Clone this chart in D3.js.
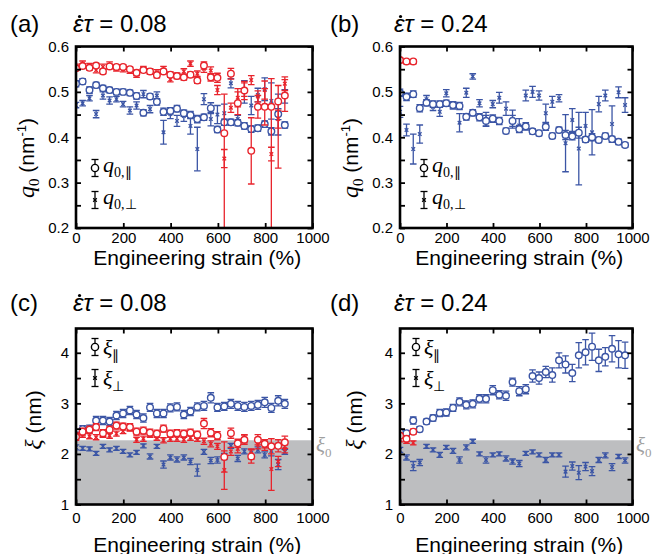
<!DOCTYPE html>
<html>
<head>
<meta charset="utf-8">
<script src="https://cdn.jsdelivr.net/npm/d3@7"></script>
<style>
  body { margin: 0; background: #fff; }
  svg { display: block; }
</style>
</head>
<body>
<svg id="fig" width="653" height="554"></svg>
<script>
// strain values (%) of the frames
const strainA = [0,28,57,85,114,142,171,199,228,256,285,313,342,370,399,427,456,484,513,541,570,598,627,655,684,712,741,769,798,826,855,883]
const strainB = [0,28,57,85,114,142,171,199,228,256,285,313,342,370,399,427,456,484,513,541,570,598,627,655,684,712,741,769,798,826,855,883,912,940,968]
const strainBRed = [0,28,57]

// axis ticks
const strainTicks = [0,200,400,600,800,1000]
const qTicks = [0.2,0.25,0.3,0.35,0.4,0.45,0.5,0.55,0.6]
const qTickLabels = [0.2,0.3,0.4,0.5,0.6]
const xiTicks = [1,1.5,2,2.5,3,3.5,4]
const xiTickLabels = [1,2,3,4]
const xi0 = 2.27

// (a) q0, rate 0.08
const aParBlue = [0.518,0.523,0.504,0.515,0.508,0.504,0.500,0.500,0.498,0.491,0.454,0.490,0.478,0.456,0.458,0.463,0.453,0.449,0.440,0.444,0.464,0.417,0.433,0.433,0.432,0.425,0.418,0.420,0.429,0.413,0.451,0.427]
const aParBlueErr = [0.007,0.006,0.007,0.006,0.006,0.006,0.006,0.006,0.006,0.007,0.007,0.006,0.007,0.008,0.007,0.007,0.007,0.008,0.008,0.007,0.012,0.007,0.007,0.007,0.007,0.007,0.007,0.007,0.007,0.008,0.012,0.007]
const aPerpBlue = [0.471,0.475,0.486,0.451,0.492,0.481,0.484,0.473,0.459,0.470,0.495,0.462,0.492,0.411,0.451,0.436,0.447,0.425,0.374,0.484,0.440,0.450,0.453,0.519,0.440,0.500,0.470,0.493,0.506,0.480,0.450,0.490]
const aPerpBlueErr = [0.006,0.006,0.006,0.008,0.008,0.008,0.006,0.006,0.008,0.008,0.008,0.008,0.008,0.026,0.010,0.012,0.012,0.018,0.048,0.012,0.015,0.020,0.020,0.010,0.008,0.025,0.020,0.015,0.025,0.040,0.045,0.015]
const aParRed = [0.552,0.557,0.553,0.558,0.545,0.556,0.555,0.555,0.550,0.542,0.548,0.545,0.537,0.545,0.538,0.535,0.532,0.538,0.525,0.558,0.532,0.531,0.409,0.540,0.475,0.503,0.370,0.467,0.467,0.467,0.479,0.492]
const aParRedErr = [0.005,0.005,0.005,0.005,0.005,0.005,0.005,0.005,0.005,0.006,0.005,0.005,0.006,0.005,0.006,0.006,0.006,0.006,0.006,0.008,0.008,0.010,0.086,0.012,0.025,0.020,0.073,0.025,0.040,0.062,0.035,0.035]
const aParRedErrLo = [0.005,0.005,0.005,0.005,0.005,0.005,0.005,0.005,0.005,0.006,0.005,0.005,0.006,0.005,0.006,0.006,0.006,0.006,0.006,0.008,0.008,0.010,0.250,0.012,0.025,0.020,0.073,0.025,0.040,0.300,0.147,0.035]
const aPerpRed = [0.555,0.562,0.557,0.548,0.555,0.560,0.552,0.550,0.547,0.538,0.550,0.545,0.543,0.550,0.528,0.535,0.545,0.562,0.540,0.551,0.547,0.504,0.353,0.465,0.487,0.505,0.526,0.490,0.504,0.363,0.440,0.518]
const aPerpRedErr = [0.006,0.006,0.006,0.006,0.006,0.006,0.006,0.006,0.006,0.006,0.006,0.006,0.006,0.006,0.006,0.006,0.006,0.006,0.006,0.008,0.008,0.010,0.020,0.010,0.020,0.015,0.010,0.012,0.020,0.015,0.020,0.015]

// (b) q0, rate 0.24
const bParBlue = [0.498,0.489,0.495,0.464,0.476,0.473,0.473,0.475,0.471,0.469,0.445,0.454,0.444,0.436,0.441,0.436,0.414,0.436,0.418,0.424,0.413,0.409,0.423,0.403,0.416,0.405,0.402,0.410,0.395,0.400,0.394,0.403,0.396,0.390,0.383]
const bParBlueErr = [0.008,0.008,0.007,0.008,0.007,0.007,0.007,0.007,0.007,0.008,0.007,0.007,0.008,0.012,0.008,0.008,0.006,0.012,0.008,0.008,0.006,0.006,0.008,0.006,0.006,0.010,0.008,0.012,0.006,0.008,0.006,0.006,0.006,0.006,0.005]
const bPerpBlue = [0.456,0.416,0.374,0.407,0.484,0.467,0.456,0.497,0.470,0.432,0.498,0.534,0.475,0.440,0.473,0.487,0.463,0.440,0.426,0.492,0.500,0.492,0.453,0.478,0.486,0.387,0.438,0.375,0.425,0.411,0.473,0.492,0.429,0.499,0.471]
const bPerpBlueErr = [0.012,0.013,0.033,0.020,0.008,0.008,0.010,0.008,0.008,0.020,0.010,0.006,0.008,0.015,0.008,0.012,0.015,0.020,0.015,0.012,0.012,0.010,0.020,0.012,0.008,0.063,0.025,0.080,0.030,0.050,0.017,0.012,0.040,0.012,0.016]
const bParRed = [0.570,0.567,0.567]
const bParRedErr = [0.005,0.004,0.004]
const bPerpRed = [0.568,0.566,0.566]
const bPerpRedErr = [0.004,0.004,0.004]

// (c) xi, rate 0.08
const cParBlue = [2.36,2.49,2.50,2.66,2.66,2.64,2.76,2.80,2.86,2.78,2.71,2.92,2.80,2.80,2.91,2.93,2.78,2.84,2.93,2.95,3.11,2.92,2.94,2.99,2.95,2.93,2.95,2.97,3.02,2.91,3.05,2.99]
const cParBlueErr = [0.07,0.07,0.07,0.08,0.08,0.08,0.08,0.08,0.08,0.08,0.08,0.08,0.08,0.08,0.08,0.08,0.08,0.08,0.08,0.09,0.10,0.08,0.08,0.09,0.09,0.09,0.09,0.09,0.10,0.09,0.10,0.09]
const cPerpBlue = [2.13,2.11,2.10,2.01,2.15,2.08,2.11,2.05,1.98,2.03,2.16,1.95,2.15,1.79,1.93,1.89,1.93,1.85,1.68,2.04,1.87,1.88,1.95,2.16,1.91,2.05,2.03,2.08,1.98,2.06,1.79,2.04]
const cPerpBlueErr = [0.05,0.04,0.04,0.04,0.04,0.04,0.04,0.04,0.04,0.04,0.04,0.05,0.04,0.07,0.05,0.05,0.05,0.06,0.12,0.05,0.06,0.06,0.06,0.05,0.06,0.05,0.06,0.06,0.06,0.10,0.10,0.05]
const cParRed = [2.34,2.44,2.48,2.53,2.41,2.48,2.56,2.54,2.53,2.44,2.46,2.42,2.40,2.50,2.40,2.41,2.40,2.42,2.38,2.60,2.42,2.36,1.94,2.41,2.21,2.28,1.95,2.28,2.20,2.15,2.16,2.23]
const cParRedErr = [0.07,0.07,0.07,0.07,0.07,0.07,0.07,0.07,0.07,0.07,0.07,0.07,0.07,0.07,0.07,0.07,0.07,0.07,0.07,0.10,0.08,0.08,0.30,0.10,0.08,0.09,0.13,0.10,0.08,0.15,0.12,0.12]
const cPerpRed = [2.36,2.38,2.35,2.33,2.38,2.36,2.40,2.45,2.50,2.28,2.30,2.38,2.32,2.27,2.30,2.30,2.28,2.32,2.30,2.25,2.20,2.15,1.68,2.05,2.10,2.30,2.00,2.18,2.15,1.70,1.85,2.10]
const cPerpRedErr = [0.05,0.05,0.05,0.05,0.05,0.05,0.05,0.05,0.05,0.05,0.05,0.05,0.05,0.05,0.05,0.05,0.05,0.05,0.05,0.06,0.06,0.06,0.38,0.08,0.08,0.08,0.10,0.08,0.08,0.42,0.10,0.08]

// (d) xi, rate 0.24
const dParBlue = [2.43,2.41,2.66,2.49,2.64,2.71,2.81,2.82,2.91,3.03,2.97,2.99,3.09,3.09,3.26,3.17,3.15,3.42,3.24,3.28,3.54,3.50,3.62,3.56,3.85,3.77,3.60,3.95,4.01,4.12,3.85,3.92,4.08,3.97,3.95]
const dParBlueErr = [0.05,0.05,0.07,0.05,0.05,0.06,0.07,0.07,0.07,0.08,0.08,0.08,0.08,0.08,0.09,0.08,0.09,0.08,0.09,0.09,0.12,0.12,0.11,0.14,0.15,0.17,0.17,0.25,0.25,0.27,0.22,0.18,0.26,0.27,0.26]
const dPerpBlue = [2.08,1.93,1.76,1.83,2.15,2.08,1.98,2.13,2.06,1.88,2.13,2.25,2.00,1.88,1.98,2.00,1.91,1.85,1.81,2.01,2.04,1.98,1.88,1.98,1.98,1.65,1.76,1.63,1.75,1.66,1.88,1.97,1.74,1.95,1.87]
const dPerpBlueErr = [0.05,0.05,0.09,0.06,0.04,0.04,0.05,0.04,0.05,0.06,0.05,0.04,0.04,0.06,0.04,0.04,0.05,0.05,0.06,0.04,0.04,0.04,0.05,0.04,0.04,0.11,0.08,0.14,0.08,0.09,0.05,0.05,0.07,0.04,0.05]
const dParRed = [2.36,2.30,2.44]
const dParRedErr = [0.05,0.05,0.05]
const dPerpRed = [2.28,2.25,2.22]
const dPerpRedErr = [0.04,0.04,0.04]

const red = '#e8242c'
const blue = '#3b55a5'
const sans = 'Arial, "Liberation Sans", sans-serif'
const serif = '"Times New Roman", "Liberation Serif", serif'

const svg = d3.select('#fig')

// one series of points with vertical error bars
function drawSeries(g, xs, vals, errHi, errLo, color, shape, x, y) {
  const pts = vals.map((v, i) => ({ s: xs[i], v: v, hi: errHi[i], lo: errLo ? errLo[i] : errHi[i] }))
  const sg = g.append('g').attr('stroke', color).attr('stroke-width', 1.3).attr('fill', 'none')
  sg.selectAll('.bar').data(pts).join('line').attr('class', 'bar')
    .attr('x1', d => x(d.s)).attr('x2', d => x(d.s))
    .attr('y1', d => y(d.v - d.lo)).attr('y2', d => y(d.v + d.hi))
  sg.selectAll('.capt').data(pts).join('line').attr('class', 'capt')
    .attr('x1', d => x(d.s) - 3.3).attr('x2', d => x(d.s) + 3.3)
    .attr('y1', d => y(d.v + d.hi)).attr('y2', d => y(d.v + d.hi))
  sg.selectAll('.capb').data(pts).join('line').attr('class', 'capb')
    .attr('x1', d => x(d.s) - 3.3).attr('x2', d => x(d.s) + 3.3)
    .attr('y1', d => y(d.v - d.lo)).attr('y2', d => y(d.v - d.lo))
  if (shape === 'circle') {
    sg.selectAll('.mk').data(pts).join('circle').attr('class', 'mk')
      .attr('cx', d => x(d.s)).attr('cy', d => y(d.v)).attr('r', 3.3)
      .attr('fill', '#fff').attr('stroke-width', 1.4)
  } else {
    sg.selectAll('.mk').data(pts).join('path').attr('class', 'mk')
      .attr('transform', d => `translate(${x(d.s)},${y(d.v)})`)
      .attr('d', 'M-1.8,-1.8L1.8,1.8M-1.8,1.8L1.8,-1.8')
  }
}

function legendMark(g, cx, cy, shape) {
  const lg = g.append('g').attr('stroke', '#000').attr('stroke-width', 1.3).attr('fill', 'none')
  lg.append('line').attr('x1', cx).attr('x2', cx).attr('y1', cy - 8.5).attr('y2', cy + 8.5)
  lg.append('line').attr('x1', cx - 3.5).attr('x2', cx + 3.5).attr('y1', cy - 8.5).attr('y2', cy - 8.5)
  lg.append('line').attr('x1', cx - 3.5).attr('x2', cx + 3.5).attr('y1', cy + 8.5).attr('y2', cy + 8.5)
  if (shape === 'circle') {
    lg.append('circle').attr('cx', cx).attr('cy', cy).attr('r', 3.6).attr('fill', '#fff').attr('stroke-width', 1.4)
  } else {
    lg.append('path').attr('transform', `translate(${cx},${cy})`).attr('d', 'M-1.8,-1.8L1.8,1.8M-1.8,1.8L1.8,-1.8')
  }
}

function title(px, tx, base, letter, rate) {
  svg.append('text').attr('x', px).attr('y', base).attr('font-family', sans).attr('font-size', 24)
    .text(`(${letter})`)
  const t = svg.append('text').attr('x', tx).attr('y', base).attr('font-family', sans).attr('font-size', 24)
  const eps = t.append('tspan').attr('font-style', 'italic').text('ε')
  t.append('tspan').attr('font-style', 'italic').text('τ')
  t.append('tspan').text(' = ' + rate)
  const w = eps.node().getComputedTextLength()
  svg.append('circle').attr('cx', tx + w * 0.62).attr('cy', base - 15.5).attr('r', 1.6).attr('fill', '#000')
}

function drawPanel(p) {
  const x = d3.scaleLinear().domain([0, 1000]).range([p.left, p.right])
  const y = d3.scaleLinear().domain(p.yDomain).range([p.bottom, p.top])
  const g = svg.append('g')

  svg.append('clipPath').attr('id', 'clip-' + p.id).append('rect')
    .attr('x', p.left).attr('y', p.top).attr('width', p.right - p.left).attr('height', p.bottom - p.top)

  if (p.band) {
    g.append('rect').attr('x', p.left).attr('y', y(p.band))
      .attr('width', p.right - p.left).attr('height', p.bottom - y(p.band)).attr('fill', '#bdbec0')
    const lab = g.append('text').attr('x', p.right + 3.5).attr('y', y(p.band) + 12).attr('fill', '#a0a0a0')
      .attr('font-family', serif).attr('font-size', 21)
    lab.append('tspan').attr('font-style', 'italic').text('ξ')
    lab.append('tspan').attr('font-size', 13).attr('dy', 5).text('0')
  }

  const dg = g.append('g').attr('clip-path', `url(#clip-${p.id})`)
  p.series.forEach(s => drawSeries(dg, s.xs, s.vals, s.err, s.errLo, s.color, s.shape, x, y))

  // axes, ticks pointing inward
  const fmt = p.yFormat
  const axB = g.append('g').attr('transform', `translate(0,${p.bottom})`)
    .call(d3.axisBottom(x).tickValues(strainTicks).tickSize(-5).tickPadding(p.xPad).tickFormat(d3.format('d')))
  const axT = g.append('g').attr('transform', `translate(0,${p.top})`)
    .call(d3.axisTop(x).tickValues(strainTicks).tickSize(-5).tickFormat(''))
  const axL = g.append('g').attr('transform', `translate(${p.left},0)`)
    .call(d3.axisLeft(y).tickValues(p.yTicks).tickSize(-5).tickPadding(7)
      .tickFormat(d => p.yLabels.includes(d) ? fmt(d) : ''))
  const axR = g.append('g').attr('transform', `translate(${p.right},0)`)
    .call(d3.axisRight(y).tickValues(p.yTicks).tickSize(-5).tickFormat(''))
  ;[axB, axT, axL, axR].forEach(a => {
    a.select('.domain').remove()
    a.selectAll('line').attr('stroke', '#000').attr('stroke-width', 1.8)
    a.selectAll('text').attr('font-family', sans).attr('font-size', 15).attr('fill', '#000')
  })

  g.append('rect').attr('x', p.left).attr('y', p.top)
    .attr('width', p.right - p.left).attr('height', p.bottom - p.top)
    .attr('fill', 'none').attr('stroke', '#000').attr('stroke-width', 2.6)

  // x label
  g.append('text').attr('x', (p.left + p.right) / 2 + 3).attr('y', p.bottom + p.xLabelGap)
    .attr('text-anchor', 'middle').attr('font-family', sans).attr('font-size', 21)
    .text('Engineering strain (%)')

  // y label
  const yl = g.append('text').attr('transform', `translate(${p.yLabelX},${p.yLabelY}) rotate(-90)`)
    .attr('text-anchor', 'middle').attr('font-family', sans).attr('font-size', 21)
  if (p.kind === 'q') {
    yl.append('tspan').attr('font-family', serif).attr('font-style', 'italic').attr('font-size', 24).text('q')
    yl.append('tspan').attr('font-family', serif).attr('font-size', 15).attr('dy', 5).text('0')
    yl.append('tspan').attr('dy', -5).text(' (nm')
    yl.append('tspan').attr('font-size', 13).attr('dy', -8).text('-1')
    yl.append('tspan').attr('dy', 8).text(')')
  } else {
    yl.append('tspan').attr('font-family', serif).attr('font-style', 'italic').attr('font-size', 24).text('ξ')
    yl.append('tspan').text(' (nm)')
  }

  // legend
  const sym = p.kind === 'q' ? 'q' : 'ξ'
  const subs = p.kind === 'q' ? ['0,∥', '0,⊥'] : ['∥', '⊥']
  p.legendY.forEach((ly, i) => {
    legendMark(g, p.legendX, ly, i === 0 ? 'circle' : 'cross')
    const t = g.append('text').attr('x', p.legendX + 8).attr('y', ly + p.legendBase)
      .attr('font-family', serif).attr('font-size', 22)
    t.append('tspan').attr('font-style', 'italic').text(sym)
    t.append('tspan').attr('font-size', 14).attr('dy', 5).text(subs[i])
  })
}

const qFmt = d3.format('.1f')
const xiFmt = d3.format('d')

drawPanel({
  id: 'a', left: 76, right: 312.5, top: 46.5, bottom: 228, yDomain: [0.2, 0.6],
  yTicks: qTicks, yLabels: qTickLabels, yFormat: qFmt, kind: 'q', xPad: 4, xLabelGap: 37,
  yLabelX: 34, yLabelY: 158, legendX: 95, legendY: [168, 200], legendBase: 4,
  series: [
    { xs: strainA, vals: aPerpBlue, err: aPerpBlueErr, color: blue, shape: 'cross' },
    { xs: strainA, vals: aParBlue, err: aParBlueErr, color: blue, shape: 'circle' },
    { xs: strainA, vals: aPerpRed, err: aPerpRedErr, color: red, shape: 'cross' },
    { xs: strainA, vals: aParRed, err: aParRedErr, errLo: aParRedErrLo, color: red, shape: 'circle' }
  ]
})
drawPanel({
  id: 'b', left: 400, right: 632.5, top: 46.5, bottom: 228, yDomain: [0.2, 0.6],
  yTicks: qTicks, yLabels: qTickLabels, yFormat: qFmt, kind: 'q', xPad: 4, xLabelGap: 37,
  yLabelX: 358, yLabelY: 158, legendX: 424, legendY: [168, 200], legendBase: 4,
  series: [
    { xs: strainB, vals: bPerpBlue, err: bPerpBlueErr, color: blue, shape: 'cross' },
    { xs: strainB, vals: bParBlue, err: bParBlueErr, color: blue, shape: 'circle' },
    { xs: strainBRed, vals: bPerpRed, err: bPerpRedErr, color: red, shape: 'cross' },
    { xs: strainBRed, vals: bParRed, err: bParRedErr, color: red, shape: 'circle' }
  ]
})
drawPanel({
  id: 'c', left: 76, right: 312.5, top: 328.5, bottom: 504.5, yDomain: [1, 4.48],
  yTicks: xiTicks, yLabels: xiTickLabels, yFormat: xiFmt, kind: 'xi', band: xi0, xPad: 8, xLabelGap: 47,
  yLabelX: 41, yLabelY: 420, legendX: 95, legendY: [347, 378], legendBase: 8,
  series: [
    { xs: strainA, vals: cPerpBlue, err: cPerpBlueErr, color: blue, shape: 'cross' },
    { xs: strainA, vals: cParBlue, err: cParBlueErr, color: blue, shape: 'circle' },
    { xs: strainA, vals: cPerpRed, err: cPerpRedErr, color: red, shape: 'cross' },
    { xs: strainA, vals: cParRed, err: cParRedErr, color: red, shape: 'circle' }
  ]
})
drawPanel({
  id: 'd', left: 400, right: 632.5, top: 328.5, bottom: 504.5, yDomain: [1, 4.48],
  yTicks: xiTicks, yLabels: xiTickLabels, yFormat: xiFmt, kind: 'xi', band: xi0, xPad: 8, xLabelGap: 47,
  yLabelX: 362, yLabelY: 420, legendX: 416, legendY: [347, 378], legendBase: 8,
  series: [
    { xs: strainB, vals: dPerpBlue, err: dPerpBlueErr, color: blue, shape: 'cross' },
    { xs: strainB, vals: dParBlue, err: dParBlueErr, color: blue, shape: 'circle' },
    { xs: strainBRed, vals: dPerpRed, err: dPerpRedErr, color: red, shape: 'cross' },
    { xs: strainBRed, vals: dParRed, err: dParRedErr, color: red, shape: 'circle' }
  ]
})

title(10, 73, 32, 'a', '0.08')
title(330, 394, 32, 'b', '0.24')
title(10, 73, 311, 'c', '0.08')
title(330, 394, 311, 'd', '0.24')
</script>
</body>
</html>
